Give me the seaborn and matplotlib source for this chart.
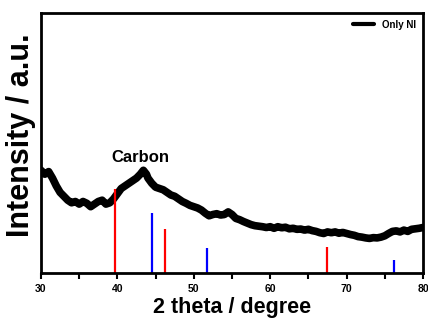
import matplotlib
matplotlib.use("Agg")
import matplotlib.pyplot as plt
import seaborn as sns
import pandas as pd

two_theta = [30.0, 30.5, 31.0, 31.5, 32.0, 32.5, 33.0, 33.5, 34.0, 34.5, 35.0, 35.5,
             36.0, 36.5, 37.0, 37.5, 38.0, 38.5, 39.0, 39.5, 40.0, 40.5, 41.0, 41.5,
             42.0, 42.5, 43.0, 43.4, 43.8, 44.0, 44.5, 45.0, 45.5, 46.0, 46.5, 47.0,
             47.5, 48.0, 48.5, 49.0, 49.5, 50.0, 50.5, 51.0, 51.5, 52.0, 52.5, 53.0,
             53.5, 54.0, 54.5, 55.0, 55.5, 56.0, 56.5, 57.0, 57.5, 58.0, 58.5, 59.0,
             59.5, 60.0, 60.5, 61.0, 61.5, 62.0, 62.5, 63.0, 63.5, 64.0, 64.5, 65.0,
             65.5, 66.0, 66.5, 67.0, 67.5, 68.0, 68.5, 69.0, 69.5, 70.0, 70.5, 71.0,
             71.5, 72.0, 72.5, 73.0, 73.5, 74.0, 74.5, 75.0, 75.5, 76.0, 76.5, 77.0,
             77.5, 78.0, 78.5, 79.0, 79.5, 80.0]
intensity = [39.5, 38.0, 39.0, 36.5, 33.5, 31.0, 29.5, 28.0, 27.0, 27.5, 26.5, 27.5,
             26.8, 25.5, 26.5, 27.5, 28.0, 26.5, 27.0, 28.5, 30.5, 32.5, 33.5, 34.5,
             35.5, 36.5, 38.0, 39.5, 38.0, 36.5, 34.5, 33.0, 32.5, 32.0, 31.0, 30.0,
             29.5, 28.5, 27.5, 26.8, 26.0, 25.5, 25.0, 24.2, 23.0, 22.0, 22.5, 22.8,
             22.3, 22.5, 23.5, 22.5, 21.0, 20.5, 19.8, 19.2, 18.6, 18.2, 18.0, 17.8,
             17.5, 17.8, 17.2, 17.8, 17.4, 17.6, 17.0, 17.2, 16.8, 16.9, 16.5, 16.8,
             16.3, 16.0, 15.5, 15.2, 15.8, 15.5, 15.8, 15.3, 15.6, 15.2, 14.8, 14.5,
             14.0, 13.8, 13.5, 13.3, 13.6, 13.5, 13.8, 14.3, 15.2, 16.0, 16.2, 15.8,
             16.5, 16.0, 16.8, 17.0, 17.2, 17.5]

ref_red_pos = [39.7, 46.2, 67.4]
ref_red_int = [32.3, 16.9, 10.0]
ref_blue_pos = [44.5, 51.7, 76.2]
ref_blue_int = [23.2, 9.6, 5.0]

series_label = "Only NI"
annotation = "Carbon"
x_ticks = [30, 40, 50, 60, 70, 80]

sns.set_style("white")
plt.rcParams['font.family'] = ['Liberation Sans', 'DejaVu Sans']
plt.rcParams['text.color'] = 'black'
plt.rcParams['axes.labelcolor'] = 'black'
plt.rcParams['xtick.color'] = 'black'

fig = plt.figure(figsize=(4.28, 3.2), dpi=100)
ax = fig.add_axes([41/428, 47/320, 382/428, 260/320])

df = pd.DataFrame({"two_theta": two_theta, "intensity": intensity})
sns.lineplot(data=df, x="two_theta", y="intensity", ax=ax, color="black",
             linewidth=5.5, label=series_label)

ax.vlines(ref_red_pos, 0, ref_red_int, colors="#ff0000", linewidth=1.6)
ax.vlines(ref_blue_pos, 0, ref_blue_int, colors="#0000ff", linewidth=1.6)

ax.text(43.0, 44.5, annotation, ha="center", va="center", fontsize=12,
        fontweight="bold", color="black")

ax.set_xlim(30, 80)
ax.set_ylim(0, 100)
ax.set_xticks(x_ticks)
ax.set_xticklabels([str(t) for t in x_ticks], fontsize=7.5, fontweight="bold")
ax.set_xticks([35, 45, 55, 65, 75], minor=True)
ax.set_yticks([])
ax.tick_params(axis="x", which="both", direction="out", length=4, width=1.5,
               bottom=True, pad=4)
for s in ax.spines.values():
    s.set_linewidth(2)
    s.set_color("black")

ax.set_xlabel("2 theta / degree", fontsize=15.5, fontweight="heavy", labelpad=2)
ax.set_ylabel("Intensity / a.u.", fontsize=22, fontweight="heavy")
ax.yaxis.set_label_coords(-0.012, 0.53)

leg = ax.legend(loc="upper right", frameon=False, prop={"size": 7, "weight": "bold"},
                handlelength=2.2, borderaxespad=0.3)
for h in leg.get_lines():
    h.set_linewidth(3)

fig.savefig("out.png", dpi=100)
